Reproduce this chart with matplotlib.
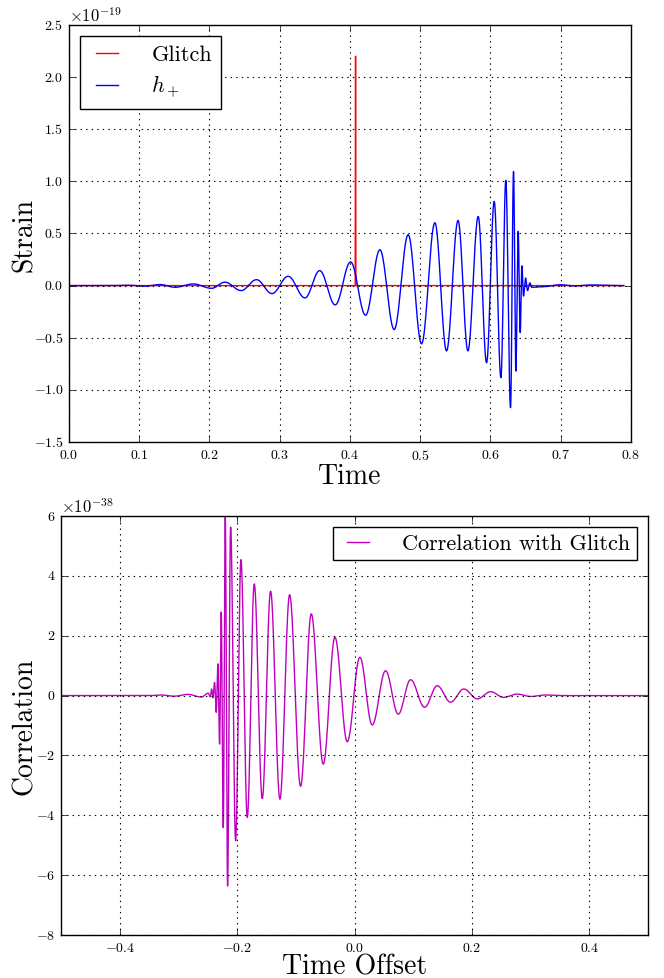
import numpy as np
import matplotlib
matplotlib.use('Agg')
import matplotlib.pyplot as plt

plt.style.use('classic')
plt.rcParams['figure.facecolor'] = 'white'
plt.rcParams['savefig.facecolor'] = 'white'
plt.rcParams['font.family'] = 'serif'
plt.rcParams['font.serif'] = ['cmr10']
plt.rcParams['mathtext.fontset'] = 'cm'
plt.rcParams['axes.formatter.use_mathtext'] = True
plt.rcParams['axes.unicode_minus'] = True

# h_+ waveform: extrema (time, strain / 1e-19)
h_t = [0.0, 0.06, 0.085, 0.107, 0.1295, 0.151, 0.177, 0.203, 0.222, 0.245,
       0.267, 0.289, 0.312, 0.336, 0.357, 0.379, 0.401, 0.4223, 0.4427, 0.463,
       0.483, 0.502, 0.521, 0.5376, 0.554, 0.568, 0.5827, 0.5946, 0.6055, 0.615,
       0.622, 0.6287, 0.633, 0.6363, 0.6396, 0.6425, 0.6449, 0.6472, 0.6501, 0.653,
       0.6562, 0.659, 0.675, 0.70, 0.72, 0.742, 0.79]
h_v = [0.0, 0.0, 0.004, -0.006, 0.01, -0.016, 0.016, -0.026, 0.033, -0.048,
       0.057, -0.077, 0.089, -0.118, 0.144, -0.185, 0.227, -0.284, 0.344, -0.421,
       0.488, -0.558, 0.603, -0.626, 0.625, -0.626, 0.663, -0.74, 0.807, -0.883,
       1.008, -1.17, 1.094, -0.82, 0.52, -0.45, 0.19, -0.10, 0.073, -0.048,
       0.026, -0.016, -0.01, 0.008, -0.003, 0.006, 0.0]

# glitch: single spike
g_t = [0.0, 0.4075, 0.408, 0.4085, 0.79]
g_v = [0.0, 0.0, 2.2, 0.0, 0.0]

# correlation with glitch: extrema (time offset, value / 1e-38)
c_t = [-0.5, -0.35, -0.33, -0.307, -0.284, -0.261, -0.2493, -0.2459, -0.2436, -0.2413,
       -0.2385, -0.2357, -0.2328, -0.23, -0.2272, -0.2237, -0.2203, -0.2164, -0.2112, -0.2027,
       -0.1936, -0.1828, -0.1709, -0.1573, -0.1431, -0.1272, -0.1107, -0.092, -0.0738, -0.0534,
       -0.0335, -0.0125, 0.009, 0.030, 0.0528, 0.0744, 0.0954, 0.1193, 0.1408, 0.1635,
       0.186, 0.209, 0.2317, 0.254, 0.277, 0.300, 0.325, 0.35, 0.5]
c_v = [0.0, 0.0, 0.02, -0.02, 0.04, -0.05, 0.08, -0.04, 0.22, -0.07,
       0.44, -0.56, 1.06, -1.62, 2.79, -4.41, 5.96, -6.36, 5.63, -4.85,
       4.54, -4.07, 3.73, -3.44, 3.49, -3.46, 3.37, -3.03, 2.73, -2.29,
       1.95, -1.54, 1.28, -0.98, 0.83, -0.62, 0.53, -0.39, 0.33, -0.22,
       0.22, -0.11, 0.13, -0.06, 0.05, -0.03, 0.02, 0.0, 0.0]


def smooth(tk, vk, n=40):
    # half-cosine between consecutive extrema
    ts, vs = [], []
    for i in range(len(tk) - 1):
        s = np.linspace(0, 1, n, endpoint=False)
        ts.append(tk[i] + (tk[i + 1] - tk[i]) * s)
        vs.append(vk[i] + (vk[i + 1] - vk[i]) * (1 - np.cos(np.pi * s)) / 2)
    ts.append([tk[-1]])
    vs.append([vk[-1]])
    return np.concatenate(ts), np.concatenate(vs)


fig = plt.figure(figsize=(6.64, 9.79), dpi=100)
ax1 = fig.add_axes([0.104, 0.5475, 0.846, 0.426])
ax2 = fig.add_axes([0.092, 0.0439, 0.884, 0.428])

ht, hv = smooth(h_t, h_v)
ax1.plot(g_t, np.array(g_v) * 1e-19, color='r', lw=1.0, label='Glitch')
ax1.plot(ht, hv * 1e-19, color='b', lw=1.0, label='$h_+$')
ax1.set_xlim(0, 0.8)
ax1.set_ylim(-1.5e-19, 2.5e-19)
ax1.set_xticks(np.arange(0, 0.81, 0.1))
ax1.set_yticks(np.arange(-1.5, 2.51, 0.5) * 1e-19)
ax1.grid(True, color='k', linestyle=':', linewidth=0.8)
ax1.set_xlabel('Time', fontsize=20, labelpad=1)
ax1.set_ylabel('Strain', fontsize=20, labelpad=-3)
ax1.legend(loc='upper left', fontsize=16, handlelength=1.6, handletextpad=1.2,
           fancybox=False, borderpad=0.4, labelspacing=0.4)

ct, cv = smooth(c_t, c_v)
ax2.plot(ct, cv * 1e-38, color='m', lw=1.0, label='Correlation with Glitch')
ax2.set_xlim(-0.5, 0.5)
ax2.set_ylim(-8e-38, 6e-38)
ax2.set_xticks([-0.4, -0.2, 0.0, 0.2, 0.4])
ax2.set_yticks(np.arange(-8, 6.1, 2) * 1e-38)
ax2.grid(True, color='k', linestyle=':', linewidth=0.8)
ax2.set_xlabel('Time Offset', fontsize=20, labelpad=0)
ax2.set_ylabel('Correlation', fontsize=20, labelpad=-1)
ax2.legend(loc='upper right', fontsize=16, handlelength=1.6, handletextpad=1.2,
           fancybox=False, borderpad=0.3)

for ax in (ax1, ax2):
    ax.tick_params(labelsize=10)

fig.savefig('out.png', dpi=100)
